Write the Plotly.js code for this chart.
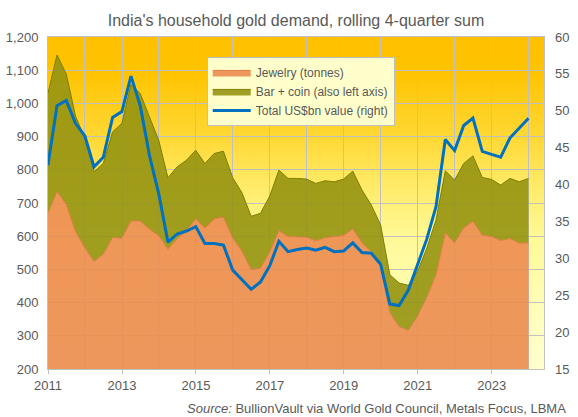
<!DOCTYPE html>
<html>
<head>
<meta charset="utf-8">
<script src="https://cdn.plot.ly/plotly-3.0.1.min.js"></script>
<style>html,body{margin:0;padding:0;background:#fff;}#chart{width:578px;height:417px;}</style>
</head>
<body>
<div id="chart"></div>
<script>
// Quarter-end dates (rolling 4-quarter sums)
const quarters = [
 "2010-12-31","2011-03-31","2011-06-30","2011-09-30","2011-12-31",
 "2012-03-31","2012-06-30","2012-09-30","2012-12-31",
 "2013-03-31","2013-06-30","2013-09-30","2013-12-31",
 "2014-03-31","2014-06-30","2014-09-30","2014-12-31",
 "2015-03-31","2015-06-30","2015-09-30","2015-12-31",
 "2016-03-31","2016-06-30","2016-09-30","2016-12-31",
 "2017-03-31","2017-06-30","2017-09-30","2017-12-31",
 "2018-03-31","2018-06-30","2018-09-30","2018-12-31",
 "2019-03-31","2019-06-30","2019-09-30","2019-12-31",
 "2020-03-31","2020-06-30","2020-09-30","2020-12-31",
 "2021-03-31","2021-06-30","2021-09-30","2021-12-31",
 "2022-03-31","2022-06-30","2022-09-30","2022-12-31",
 "2023-03-31","2023-06-30","2023-09-30","2023-12-31"
];
// Jewelry demand, tonnes
const jewelry = [
 669,734,696,614,565,524,546,596,594,646,646,621,601,561,593,617,653,
 624,652,658,594,555,499,504,553,617,599,599,597,586,595,599,602,
 622,580,553,512,370,328,316,360,416,483,610,580,625,645,603,599,587,593,579,580
];
// Bar + coin demand, tonnes
const barCoin = [
 361,412,393,348,330,270,273,318,346,411,384,338,287,215,216,212,206,
 195,197,198,182,176,161,165,168,182,175,175,175,173,172,165,170,
 174,159,141,122,114,131,136,135,148,166,187,189,194,197,174,172,167,181,185,194
];
// Total value, US$bn
const valueUSD = [
 42.6,50.7,51.4,48.3,46.6,42.4,43.7,49.1,49.9,54.7,50.7,43.9,38.7,32.2,33.3,33.7,34.3,
 32.0,32.0,31.8,28.4,27.1,25.8,26.8,29.0,32.3,30.9,31.2,31.4,31.1,31.5,30.9,31.0,
 32.1,30.8,30.7,29.2,23.8,23.6,25.7,29.3,32.6,37.0,46.1,44.6,48.0,49.0,44.5,44.1,43.7,46.3,47.6,49.0
];
const seriesNames = ["Jewelry (tonnes)", "Bar + coin (also left axis)", "Total US$bn value (right)"];
const titleText = "India's household gold demand, rolling 4-quarter sum";
const sourceText = "<i>Source:</i> BullionVault via World Gold Council, Metals Focus, LBMA";

const font = "Liberation Sans, Arial, sans-serif";
const txt = "#595959";
const grid = "#C0C0C0";

const traces = [
  {
    x: quarters, y: jewelry, name: seriesNames[0], type: "scatter", mode: "lines",
    stackgroup: "d", fillcolor: "rgba(236,140,80,0.9)",
    line: {color: "#DE7D48", width: 1}, hoverinfo: "skip"
  },
  {
    x: quarters, y: barCoin, name: seriesNames[1], type: "scatter", mode: "lines",
    stackgroup: "d", fillcolor: "rgba(150,148,18,0.9)",
    line: {color: "#7F7F00", width: 1}, hoverinfo: "skip"
  },
  {
    x: quarters, y: valueUSD, name: seriesNames[2], type: "scatter", mode: "lines",
    yaxis: "y2", line: {color: "#0070C0", width: 3}, hoverinfo: "skip"
  }
];

const svg = "<svg xmlns='http://www.w3.org/2000/svg' viewBox='0 0 10 100' preserveAspectRatio='none' width='10' height='100'>" +
  "<defs><linearGradient id='g' x1='0' y1='0' x2='0' y2='1'>" +
  "<stop offset='0' stop-color='#FFC000'/>" +
  "<stop offset='0.1' stop-color='#FFC300'/>" +
  "<stop offset='0.3' stop-color='#FFD834'/>" +
  "<stop offset='0.45' stop-color='#FFEB68'/>" +
  "<stop offset='0.6' stop-color='#FFF996'/>" +
  "<stop offset='0.8' stop-color='#FFFEB6'/>" +
  "<stop offset='1' stop-color='#FFFFD0'/>" +
  "</linearGradient></defs><rect x='0' y='0' width='10' height='100' fill='url(#g)'/></svg>";
const bgSrc = "data:image/svg+xml;charset=utf-8," + encodeURIComponent(svg);

const layout = {
  width: 578, height: 417,
  margin: {l: 48, r: 34, t: 37, b: 48, pad: 0},
  paper_bgcolor: "#FFFFFF",
  plot_bgcolor: "rgba(0,0,0,0)",
  font: {family: font, size: 13, color: txt},
  title: {text: titleText, x: 0.5, xref: "paper", xanchor: "center", y: 0.952, yref: "container", yanchor: "middle",
          font: {family: font, size: 16, color: txt}},
  showlegend: true,
  legend: {
    x: 0.32, y: 0.94, xanchor: "left", yanchor: "top",
    bgcolor: "#FFFFCC", bordercolor: "#BFBFBF", borderwidth: 1,
    font: {family: font, size: 12, color: txt}, traceorder: "normal",
    tracegroupgap: 0, itemwidth: 38
  },
  xaxis: {
    type: "date",
    range: ["2011-01-01", "2024-06-01"],
    tick0: "2011-01-01", dtick: "M24", tickformat: "%Y",
    showgrid: true, gridcolor: grid, gridwidth: 1,
    minor: {dtick: "M12", tick0: "2011-01-01", showgrid: true, gridcolor: grid, gridwidth: 1, ticks: ""},
    ticks: "outside", ticklen: 4, tickcolor: grid,
    showline: true, linecolor: grid, linewidth: 1, mirror: true,
    tickfont: {family: font, size: 13, color: txt},
    zeroline: false, fixedrange: true
  },
  yaxis: {
    range: [200, 1200], dtick: 100, tick0: 200, tickformat: ",d",
    showgrid: true, gridcolor: grid, gridwidth: 1,
    showline: true, linecolor: grid, linewidth: 1, mirror: true,
    ticks: "", ticklabelstandoff: 6,
    tickfont: {family: font, size: 13, color: txt},
    zeroline: false, fixedrange: true
  },
  yaxis2: {
    overlaying: "y", side: "right",
    range: [15, 60], dtick: 5, tick0: 15,
    showgrid: false, zeroline: false, ticks: "", ticklabelstandoff: 10,
    tickfont: {family: font, size: 13, color: txt}, fixedrange: true
  },
  images: [{
    source: bgSrc, xref: "paper", yref: "paper", x: 0, y: 1, sizex: 1, sizey: 1,
    xanchor: "left", yanchor: "top", sizing: "stretch", layer: "below"
  }],
  annotations: [{
    text: sourceText, xref: "paper", yref: "paper", x: 1.048, y: -0.118,
    xanchor: "right", yanchor: "middle", showarrow: false,
    font: {family: font, size: 13, color: txt}
  }]
};

Plotly.newPlot("chart", traces, layout, {displayModeBar: false, staticPlot: true});
</script>
</body>
</html>
